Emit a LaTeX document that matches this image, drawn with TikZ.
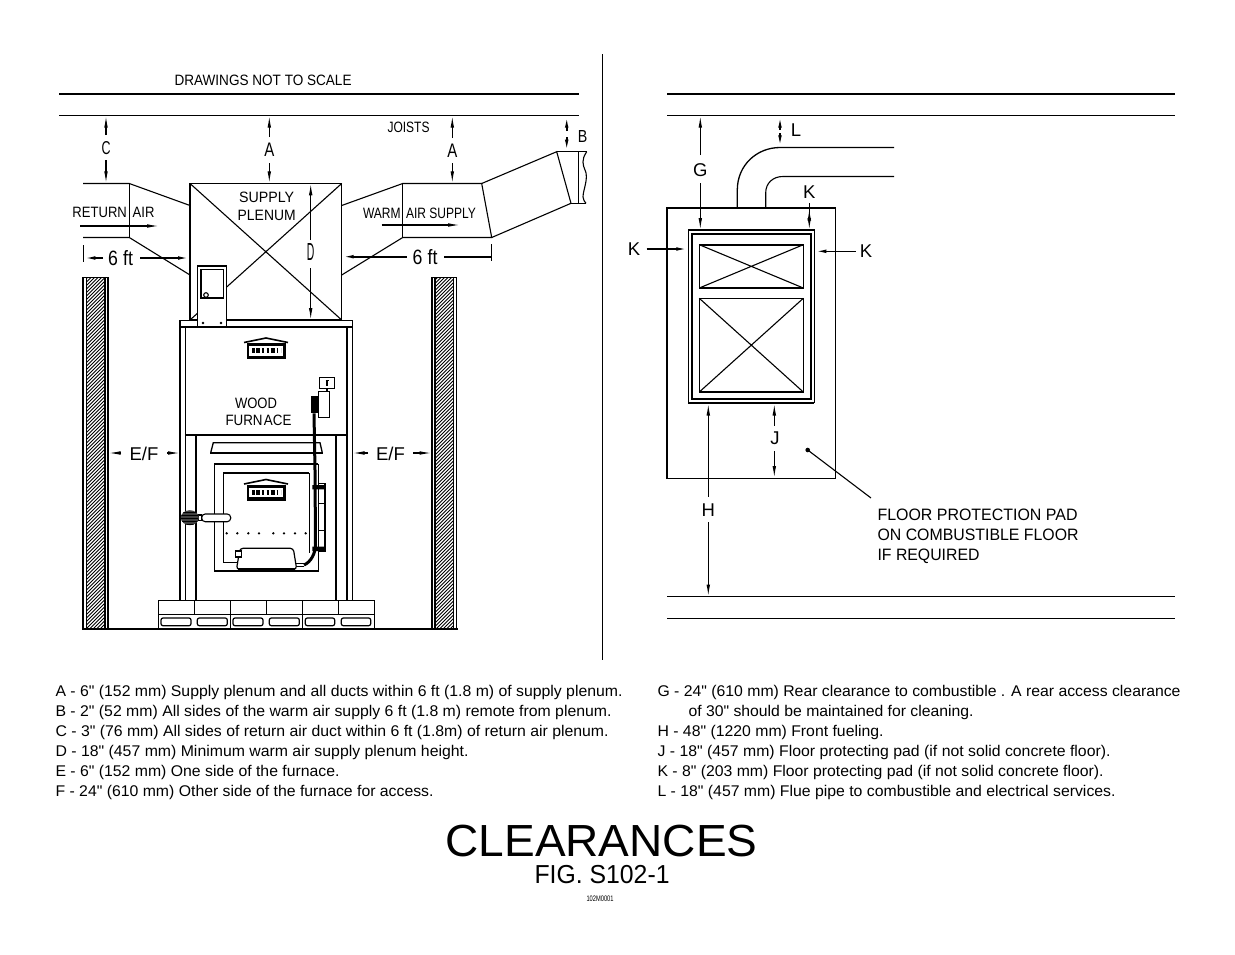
\documentclass[tikz,border=0pt]{standalone}
\usepackage{fontspec}
\setmainfont{Liberation Sans}
\newfontfamily\plainf{Liberation Sans}
\usetikzlibrary{arrows.meta}
\newcommand\tw[2]{\resizebox{#1pt}{\height}{#2}}
\newcommand\twh[3]{\resizebox{#1pt}{#2pt}{#3}}
\newcommand\furnlogo[2]{\begin{scope}[shift={(#1,#2)}]
 \draw[line width=1.6pt] (-22,4.5)--(0,0)--(22,4.5);
 \fill (-19.5,5) rectangle (19.5,21);
 \fill[white] (-17,8) rectangle (17,17.5);
 \draw[line width=5pt,dash pattern=on 2.5pt off 1.5pt on 4pt off 2pt on 1.5pt off 3pt] (-14,12.7)--(15,12.7);
 \end{scope}}
\tikzset{
 thin line/.style={line width=1.1pt},
 thick line/.style={line width=2.2pt},
 tip/.style={-{Latex[length=12pt,width=3.6pt]}},
 lab/.style={inner sep=0pt,font=\fontsize{18.5}{18.5}\selectfont},
 small/.style={inner sep=0pt,font=\fontsize{15}{15}\selectfont},
 leg/.style={inner sep=0pt,anchor=base west,font=\plainf\fontsize{15.5}{15.5}\selectfont},
 pad text/.style={inner sep=0pt,anchor=base west,font=\fontsize{16.5}{16.5}\selectfont},
}
\begin{document}
\begin{tikzpicture}[x=1pt,y=-1pt,line cap=butt,thin line]
\useasboundingbox (0,0) rectangle (1235,954);
\fill[white] (0,0) rectangle (1235,954);
% divider
\draw (602.5,54)--(602.5,660);
% === LEFT ===
\draw[thick line] (59,94)--(579,94);
\draw (59,115.5)--(579,115.5);
\node[small,anchor=base west] (notscale) at (174,85.5) {\tw{177}{DRAWINGS NOT TO SCALE}};
\node[small] (joists) at (408.5,127.5) {\tw{42}{JOISTS}};
% return duct
\draw (83,183.5)--(129.3,183.5)--(190,205.5);
\draw (83,237.5)--(129.3,237.5)--(190,275);
\draw (129.3,183.5)--(129.3,237.5);
% supply duct
\draw (341.7,205.5)--(402.7,183.5)--(481.7,183.5)--(491.7,237.5)--(402.7,237.5)--(341.7,275);
\draw (402.7,183.5)--(402.7,237.5);
\draw (481.7,183.5)--(556.7,151.7)--(571,203.3)--(491.7,237.5);
\draw (556.7,151.7)--(587,151.7);
\draw (571,203.3)--(586,203.3);
\draw (578.3,151.7)--(578.3,203.3);
\draw (586.7,151.7) .. controls (581,160) and (583,165) .. (585,170) .. controls (589,178) and (583,190) .. (583,197) .. controls (583,200) and (585,202) .. (586,203.3);
% plenum
\draw (190,183.5) rectangle (341.7,320);
\draw (190,183.5)--(341.7,320);
\draw (341.7,183.5)--(190,320);
% dims left
\draw[tip] (106,135)--(106,115.7);
\draw[tip] (106,160)--(106,183.3);
\node[lab] (c) at (106,148) {\twh{9}{13}{C}};
\draw[tip] (269.3,137)--(269.3,115.7);
\draw[tip] (269.3,163)--(269.3,183.3);
\node[lab] (a1) at (269.3,150) {\twh{10}{13.5}{A}};
\draw[tip] (452.3,138)--(452.3,115.7);
\draw[tip] (452.3,163)--(452.3,183.3);
\node[lab] (a2) at (452.3,150.5) {\twh{10}{13.5}{A}};
\draw[tip,line width=1.6pt] (566.7,131)--(566.7,115.7);
\draw[tip,line width=1.6pt] (566.7,137)--(566.7,151.7);
\node[lab] (b) at (582.7,136.5) {\twh{9.5}{12}{B}};
\draw[tip] (310.7,240)--(310.7,183.3);
\draw[tip] (310.7,268)--(310.7,320);
\node[lab] (d) at (310.7,252) {\twh{7.5}{17}{D}};
\node[small] (sp1) at (266.7,197.7) {\tw{55}{SUPPLY}};
\node[small] (sp2) at (266.7,215.7) {\tw{58}{PLENUM}};
\node[small] (ra) at (113.5,212) {\tw{82}{RETURN\hspace{.45em}AIR}};
\draw[tip] (80,226)--(159,226);
\node[small] (wa) at (419.5,213) {\tw{113}{WARM\hspace{.45em}AIR SUPPLY}};
\draw[tip] (381.7,225)--(460,225);
% 6 ft
\draw (83.3,245)--(83.3,262);
\draw[tip,line width=1.6pt] (103,258)--(83.3,258);
\draw[tip,line width=1.6pt] (140,258)--(190,258);
\node[lab] (ft1) at (120.5,258.5) {\twh{25}{15}{6\hspace{.3em}ft}};
\draw[tip,line width=1.6pt] (406.7,256.7)--(341.7,256.7);
\draw[line width=1.6pt] (444.3,256.7)--(491.7,256.7);
\draw (491.7,244)--(491.7,260.5);
\node[lab] (ft2) at (425,257.5) {\twh{25}{15}{6\hspace{.3em}ft}};
% walls
\begin{scope}
\clip (86.5,277.5) rectangle (105,628);
\foreach \y in {270,273.5,...,660} \draw[line width=.8pt] (80,\y+15)--(110,\y-15);
\end{scope}
\begin{scope}
\clip (435,277.5) rectangle (453.5,628);
\foreach \y in {270,273.5,...,660} \draw[line width=.8pt] (430,\y+15)--(460,\y-15);
\end{scope}
\draw[line width=1.8pt] (83,628.5)--(83,277.5)--(108,277.5)--(108,628.5);
\draw (86.5,277.5)--(86.5,628.5) (105,277.5)--(105,628.5);
\draw[line width=1.8pt] (432,628.5)--(432,277.5)--(456.5,277.5)--(456.5,628.5);
\draw (435,277.5)--(435,628.5) (453.5,277.5)--(453.5,628.5);
\draw[thick line] (82,629)--(457.5,629);
% E/F
\node[lab] (ef1) at (144,454) {E/F};
\node[lab] (ef2) at (390.5,454) {E/F};
\draw[tip] (121,453)--(108.5,453);
\draw[tip] (167,453)--(180,453);
\draw[tip] (368,453)--(352.5,453);
\draw[tip] (413,453)--(431.5,453);
% furnace body
\draw[thick line] (180,327)--(180,600.7) (346.7,327)--(346.7,600.7);
\draw (185.3,327)--(185.3,600.7) (352.3,327)--(352.3,600.7);
\draw (196,435)--(196,600.7) (336,435)--(336,600.7);
\draw[thick line] (185.3,435)--(346.7,435);
\draw[fill=white] (180,320.7) rectangle (352.3,327);
\furnlogo{266}{338}
\node[small] (wf1) at (256,403) {\tw{42}{WOOD}};
\node[small] (wf2) at (258.5,420) {\tw{66}{FURN\hspace{.1em}ACE}};
% panel
\draw[fill=white] (197.7,266) rectangle (226.7,326.7);
\draw[line width=1.4pt] (201,269.5) rectangle (223.7,298);
\draw (206,295) circle (2.3);
\fill (203,323) circle (1.3) (221,323) circle (1.3);
% controls
\draw (319.3,377.7) rectangle (334.3,388.3);
\draw (327,380.5)--(327,386) (325.5,380.5)--(328.5,380.5);
\draw (327,388.3)--(327,391.7);
\draw[line width=1.5pt] (318.3,391.7) rectangle (329.3,417.3);
\fill (311.3,396) rectangle (318.3,413.3);
% firebox
\draw[line width=1.3pt] (210.7,452.7)--(213.3,442.7)--(320,442.7)--(322.3,452.7);
\draw[thick line] (210,453)--(323,453);
\draw (318.3,464) -- (318.3,571) -- (214.3,571) -- (214.3,464);
\draw[line width=1.6pt] (214.3,464)--(318.3,464);
\draw (223.3,562.3)--(223.3,473.3)--(309.3,473.3);
\draw[line width=1.8pt] (223.3,473.3)--(309.3,473.3);
\draw (309.3,473.3)--(309.3,553);
\draw (223.3,562.3)--(237,562.3);
\furnlogo{266}{479.5}
\foreach \x in {226.7,237.3,248.3,259,273.3,284,295,305.7} \fill (\x,533.3) circle (1.3);
% hinges
\draw (318.3,483.5)--(325,483.5)--(325,551.7)--(318.3,551.7);
\draw (318.3,503.5)--(325,503.5) (318.3,530.5)--(325,530.5);
\fill (312.3,485) rectangle (324,489.3) (312.3,546.7) rectangle (324,551);
% conduit
\draw[line width=3pt] (314,413.3)--(315,470)--(315.5,545) .. controls (315.5,553) and (311,562) .. (304,565);
\draw (296,563.5)--(306,563.5) (296,566.5)--(304,566.5);
% ash pan
\draw[fill=white,rounded corners=3pt,line width=1.2pt] (236.5,569.3)--(240,548.3)--(293.3,548.3)--(296.7,569.3)--cycle;
\draw[line width=2.4pt] (238,569.3)--(295,569.3);
\draw[fill=white] (235.3,551) rectangle (241.3,557);
% handle
\draw[rounded corners=3.5pt,fill=white] (201.7,514)--(230.7,514)--(230.7,521.7)--(201.7,521.7)--cycle;
\draw[line width=1.3pt,fill=white] (198,515)rectangle(201.7,520.5);
\fill[black!75] (189.8,517.7) ellipse (9 and 7.5);
\begin{scope}
\clip (189.8,517.7) ellipse (9 and 7.5);
\foreach \y in {512,515,518,521,524} \draw[black,line width=.7pt] (180,\y)--(199,\y);
\end{scope}
% base
\draw[line width=1.3pt] (158.3,600.7) rectangle (374.3,628.3);
\draw (158.3,614.3)--(374.3,614.3);
\foreach \x in {194.3,230.3,266.3,302.3,338.3} \draw (\x,600.7)--(\x,614.3);
\draw (230.3,614.3)--(230.3,628.3);
\draw[line width=1.5pt] (302.3,600.7)--(302.3,628.3);
\foreach \a/\b in {161/191,197.3/227.3,233/263,269.3/299.3,305.3/334.7,341.3/370.7}
  \draw[rounded corners=2pt,line width=1.2pt] (\a,618) rectangle (\b,625.7);
% === RIGHT ===
\draw[thick line] (667,94)--(1175,94);
\draw (667,115.5)--(1175,115.5);
\draw (667,596.5)--(1175,596.5);
\draw (667,618.5)--(1175,618.5);
% flue
\draw[line width=1.3pt] (737.3,208)--(737.3,190) .. controls (737.3,165) and (757,147.5) .. (780,147.5)--(894,147.5);
\draw (765.7,208)--(765.7,193) .. controls (765.7,183) and (773,176.5) .. (783,176.5)--(894,176.5);
% pad
\draw (667.3,478.5)--(835.7,478.5)--(835.7,208.3);
\draw[thick line] (667.3,479)--(667.3,208.3)--(835.7,208.3);
% furnace plan
\draw[fill=white] (688.3,230) rectangle (814.3,402.7);
\draw[line width=1.8pt] (688.3,402.7)--(814.3,402.7);
\draw[line width=1.6pt] (691.7,233.7) rectangle (810.7,399);
\draw (699.3,244.7) rectangle (803.3,288);
\draw[thick line] (699.3,244.7)--(803.3,244.7) (699.3,288)--(803.3,288);
\draw (699.3,244.7)--(803.3,288) (803.3,244.7)--(699.3,288);
\draw (699.3,298.3) rectangle (803.3,392);
\draw[thick line] (699.3,392)--(803.3,392);
\draw (699.3,298.3)--(803.3,392) (803.3,298.3)--(699.3,392);
% dims right
\draw[tip] (700.3,155)--(700.3,115.7);
\draw[tip] (700.3,183)--(700.3,230);
\node[lab] (g) at (700.3,170) {G};
\draw[tip,line width=1.6pt] (780,130)--(780,115.7);
\draw[tip,line width=1.6pt] (780,133.3)--(780,147.3);
\node[lab] (l) at (796,130) {L};
\node[lab] (k1) at (809.3,191.7) {K};
\draw[tip] (809.3,215)--(809.3,208.5);
\draw (809.3,203.3)--(809.3,215);
\draw[tip] (809.3,218)--(809.3,230);
\node[lab] (k2) at (634,249) {K};
\draw[tip,line width=1.6pt] (646.7,249)--(688.3,249);
\node[lab] (k3) at (866,251.3) {K};
\draw[tip,line width=1.6pt] (855.7,251.3)--(814.3,251.3);
\draw[tip] (774.3,425.7)--(774.3,403.5);
\draw[tip] (774.3,451)--(774.3,478);
\node[lab] (j) at (775,438.3) {J};
\draw[tip] (708.3,496.7)--(708.3,403.5);
\draw[tip] (708.3,522)--(708.3,596.5);
\node[lab] (h) at (708.3,510) {H};
\coordinate (pt) at (807.7,450);
\fill (pt) circle (2.3);
\coordinate (ptend) at (871,498);
\draw (pt)--(ptend);
\node[pad text] (fp1) at (877,520) {\tw{200}{FLOOR PROTECTION PAD}};
\node[pad text] (fp2) at (877,540) {\tw{201}{ON COMBUSTIBLE FLOOR}};
\node[pad text] (fp3) at (877,560) {\tw{102}{IF REQUIRED}};
% legend
\node[leg] (la) at (55,696) {\tw{567}{A - 6" (152 mm) Supply plenum and all ducts within 6 ft (1.8 m) of supply plenum.}};
\node[leg] (lb) at (55,716) {\tw{556}{B - 2" (52 mm) All sides of the warm air supply 6 ft (1.8 m) remote from plenum.}};
\node[leg] (lc) at (55,736) {\tw{553}{C - 3" (76 mm) All sides of return air duct within 6 ft (1.8m) of return air plenum.}};
\node[leg] (ld) at (55,756) {\tw{413}{D - 18" (457 mm) Minimum warm air supply plenum height.}};
\node[leg] (le) at (55,776) {\tw{284}{E - 6" (152 mm) One side of the furnace.}};
\node[leg] (lf) at (55,796) {\tw{378}{F - 24" (610 mm) Other side of the furnace for access.}};
\node[leg] (lg) at (657,696) {\tw{523}{G - 24" (610 mm) Rear clearance to combustible . A rear access clearance}};
\node[leg] (lg2) at (688,716) {\tw{285}{of 30" should be maintained for cleaning.}};
\node[leg] (lh) at (657,736) {\tw{226}{H - 48" (1220 mm) Front fueling.}};
\node[leg] (lj) at (657,756) {\tw{453}{J - 18" (457 mm) Floor protecting pad (if not solid concrete floor).}};
\node[leg] (lk) at (657,776) {\tw{446}{K - 8" (203 mm) Floor protecting pad (if not solid concrete floor).}};
\node[leg] (ll) at (657,796) {\tw{458}{L - 18" (457 mm) Flue pipe to combustible and electrical services.}};
% title
\node[inner sep=0pt,anchor=base west,font=\fontsize{45}{45}\selectfont] (t1) at (445,856) {\tw{312}{CLEARANCES}};
\node[inner sep=0pt,anchor=base west,font=\fontsize{26}{26}\selectfont] (t2) at (534,883) {\tw{135}{FIG. S102-1}};
\node[inner sep=0pt,anchor=base west,font=\fontsize{8}{8}\selectfont] (t3) at (586,901) {\tw{27}{102M0001}};
\end{tikzpicture}
\end{document}
